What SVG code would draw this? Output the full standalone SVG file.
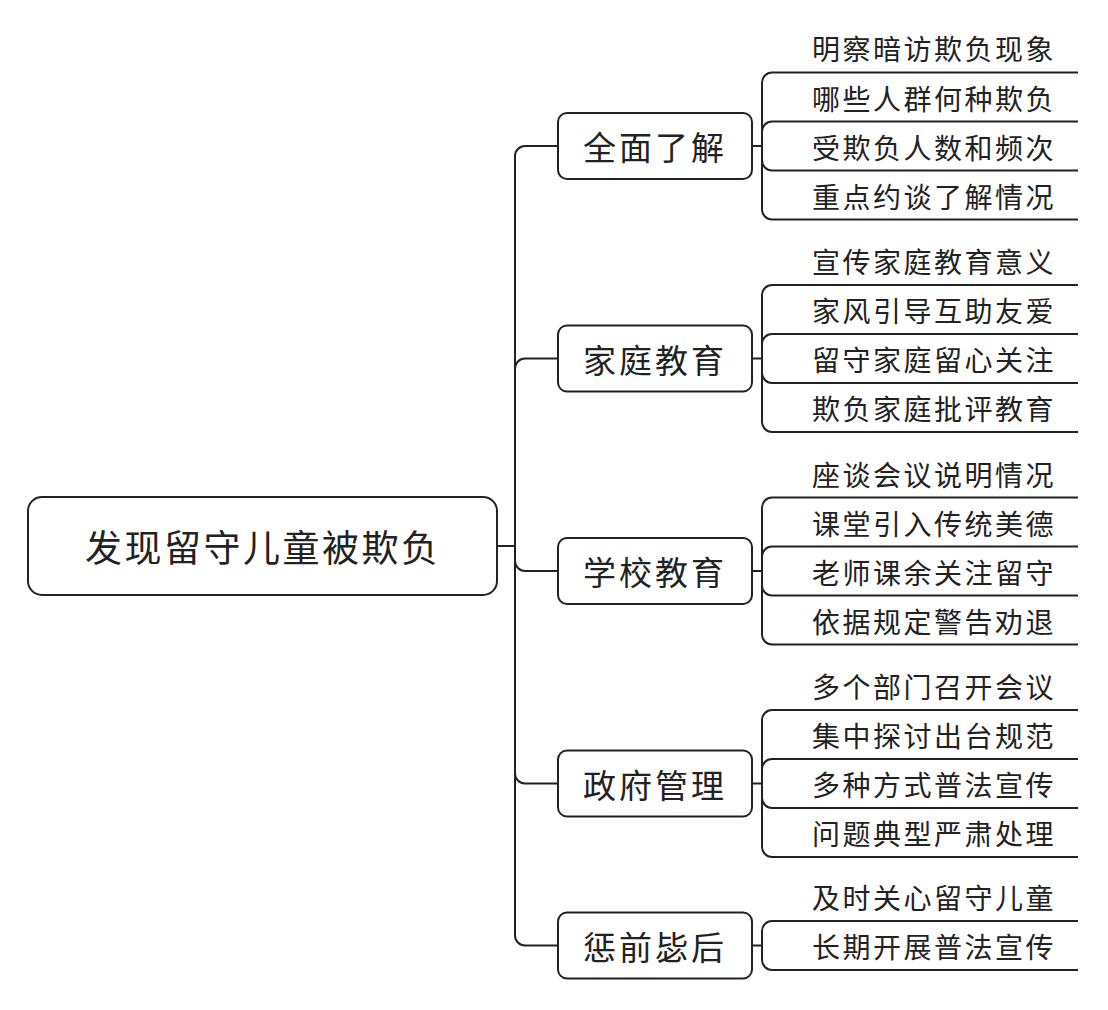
<svg xmlns="http://www.w3.org/2000/svg" width="1108" height="1010" viewBox="0 0 1108 1010">
<style>
.box{fill:#fff;stroke:#222;stroke-width:2}
.ln{fill:none;stroke:#222;stroke-width:2}
text{font-family:"Noto Sans CJK SC","Noto Sans",sans-serif;fill:#222;dominant-baseline:central}
.r{font-size:37px;letter-spacing:2.5px}
.b{font-size:33px;letter-spacing:3px}
.l{font-size:28px;letter-spacing:2.5px}
</style>
<rect width="1108" height="1010" fill="#fff"/>
<g id="connectors" class="ln">
<path d="M497 546H515"/>
<path d="M558 146H525A10 10 0 0 0 515 156V935.5A10 10 0 0 0 525 945.5H558"/>
<path d="M515 368.5A10 10 0 0 1 525 358.5H558"/>
<path d="M515 561A10 10 0 0 0 525 571H558"/>
<path d="M515 773.5A10 10 0 0 0 525 783.5H558"/>
<path d="M752 146H762M762 82.5A10 10 0 0 1 772 72.5H1078M762 131.5A10 10 0 0 1 772 121.5H1078M762 160.5A10 10 0 0 0 772 170.5H1078M762 209.5A10 10 0 0 0 772 219.5H1078M762 82.5V209.5"/>
<path d="M752 358.5H762M762 295A10 10 0 0 1 772 285H1078M762 344A10 10 0 0 1 772 334H1078M762 373A10 10 0 0 0 772 383H1078M762 422A10 10 0 0 0 772 432H1078M762 295V422"/>
<path d="M752 571H762M762 507.5A10 10 0 0 1 772 497.5H1078M762 556.5A10 10 0 0 1 772 546.5H1078M762 585.5A10 10 0 0 0 772 595.5H1078M762 634.5A10 10 0 0 0 772 644.5H1078M762 507.5V634.5"/>
<path d="M752 783.5H762M762 720A10 10 0 0 1 772 710H1078M762 769A10 10 0 0 1 772 759H1078M762 798A10 10 0 0 0 772 808H1078M762 847A10 10 0 0 0 772 857H1078M762 720V847"/>
<path d="M752 945.5H762M762 931A10 10 0 0 1 772 921H1078M762 960A10 10 0 0 0 772 970H1078M762 931V960"/>
</g>
<g id="root"><rect class="box" x="28" y="497" width="469" height="98" rx="14"/><text class="r" x="85" y="546">发现留守儿童被欺负</text></g>
<g id="b1"><rect class="box" x="558" y="113" width="194" height="66" rx="9"/><text class="b" x="583" y="146">全面了解</text></g>
<g id="b2"><rect class="box" x="558" y="325.5" width="194" height="66" rx="9"/><text class="b" x="583" y="358.5">家庭教育</text></g>
<g id="b3"><rect class="box" x="558" y="538" width="194" height="66" rx="9"/><text class="b" x="583" y="571">学校教育</text></g>
<g id="b4"><rect class="box" x="558" y="750.5" width="194" height="66" rx="9"/><text class="b" x="583" y="783.5">政府管理</text></g>
<g id="b5"><rect class="box" x="558" y="912.5" width="194" height="66" rx="9"/><text class="b" x="583" y="945.5">惩前毖后</text></g>
<g id="l1-1"><text class="l" x="812" y="48">明察暗访欺负现象</text></g>
<g id="l1-2"><text class="l" x="812" y="97.5">哪些人群何种欺负</text></g>
<g id="l1-3"><text class="l" x="812" y="146.5">受欺负人数和频次</text></g>
<g id="l1-4"><text class="l" x="812" y="195.5">重点约谈了解情况</text></g>
<g id="l2-1"><text class="l" x="812" y="261">宣传家庭教育意义</text></g>
<g id="l2-2"><text class="l" x="812" y="310">家风引导互助友爱</text></g>
<g id="l2-3"><text class="l" x="812" y="359">留守家庭留心关注</text></g>
<g id="l2-4"><text class="l" x="812" y="408">欺负家庭批评教育</text></g>
<g id="l3-1"><text class="l" x="812" y="473.5">座谈会议说明情况</text></g>
<g id="l3-2"><text class="l" x="812" y="522.5">课堂引入传统美德</text></g>
<g id="l3-3"><text class="l" x="812" y="571.5">老师课余关注留守</text></g>
<g id="l3-4"><text class="l" x="812" y="620.5">依据规定警告劝退</text></g>
<g id="l4-1"><text class="l" x="812" y="686">多个部门召开会议</text></g>
<g id="l4-2"><text class="l" x="812" y="735">集中探讨出台规范</text></g>
<g id="l4-3"><text class="l" x="812" y="784">多种方式普法宣传</text></g>
<g id="l4-4"><text class="l" x="812" y="833">问题典型严肃处理</text></g>
<g id="l5-1"><text class="l" x="812" y="897">及时关心留守儿童</text></g>
<g id="l5-2"><text class="l" x="812" y="946">长期开展普法宣传</text></g>
</svg>
